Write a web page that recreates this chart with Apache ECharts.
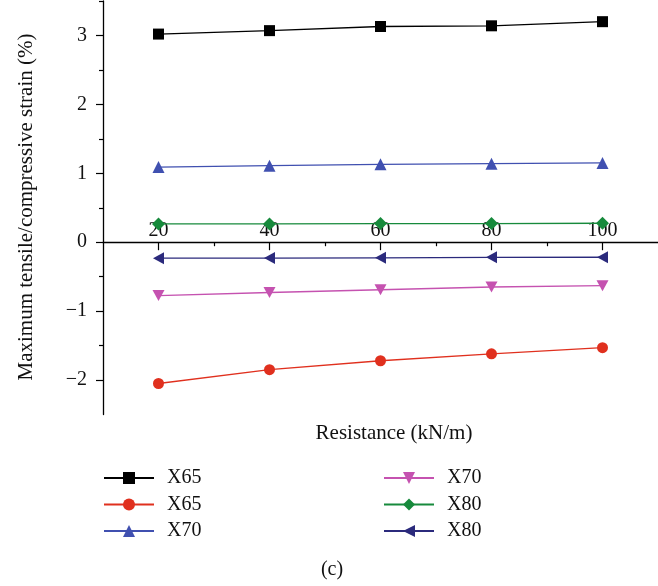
<!DOCTYPE html>
<html>
<head>
<meta charset="utf-8">
<script src="https://cdn.jsdelivr.net/npm/echarts@6/dist/echarts.min.js"></script>
<style>html,body{margin:0;padding:0;background:#fff}#c{width:658px;height:586px}</style>
</head>
<body>
<div id="c"></div>
<script>
const resistance = [20, 40, 60, 80, 100];
const x65Tensile = [3.02, 3.07, 3.13, 3.14, 3.20];
const x65Compressive = [-2.05, -1.85, -1.72, -1.62, -1.53];
const x70Tensile = [1.09, 1.11, 1.13, 1.14, 1.15];
const x70Compressive = [-0.775, -0.73, -0.69, -0.65, -0.63];
const x80Tensile = [0.266, 0.265, 0.27, 0.27, 0.275];
const x80Compressive = [-0.232, -0.23, -0.226, -0.22, -0.218];
const xMajorTicks = [20, 40, 60, 80, 100];
const xMinorTicks = [30, 50, 70, 90];
const yMajorTicks = [-2, -1, 0, 1, 2, 3];
const yMinorTicks = [-1.5, -0.5, 0.5, 1.5, 2.5, 3.5];
const xTitle = 'Resistance (kN/m)';
const yTitle = 'Maximum tensile/compressive strain (%)';
const caption = '(c)';

const FONT = '"Liberation Serif", "DejaVu Serif", serif';
const pts = arr => resistance.map((x, i) => [x, arr[i]]);

const seriesDefs = [
  {name: 'X65-t', data: x65Tensile, color: '#000000', symbol: 'rect', size: 11},
  {name: 'X65-c', data: x65Compressive, color: '#e0301e', symbol: 'circle', size: 11},
  {name: 'X70-t', data: x70Tensile, color: '#4050b0', symbol: 'triangle', size: 12},
  {name: 'X70-c', data: x70Compressive, color: '#c552b0', symbol: 'path://M0,0 L10,0 L5,9 Z', size: [12, 11]},
  {name: 'X80-t', data: x80Tensile, color: '#178a3c', symbol: 'diamond', size: [13, 13]},
  {name: 'X80-c', data: x80Compressive, color: '#2b2a7c', symbol: 'path://M0,5 L9,0 L9,10 Z', size: [11, 12]}
];

const GRID_TOP = 1, GRID_H = 413.5, Y_MIN = -2.5, Y_MAX = 3.5;
const zeroOffset = -GRID_H * (0 - Y_MIN) / (Y_MAX - Y_MIN);

const chart = echarts.init(document.getElementById('c'), null, {renderer: 'canvas'});
const legendCommon = {
  orient: 'vertical', itemWidth: 50, itemHeight: 15, itemGap: 6.5, padding: 0,
  formatter: n => n.split('-')[0],
  textStyle: {fontFamily: FONT, fontSize: 20, color: '#111', lineHeight: 20, padding: [0, 0, 0, 8]},
  selectedMode: false
};
chart.setOption({
  animation: false,
  backgroundColor: '#fff',
  grid: {left: 103, right: -6, top: GRID_TOP, height: GRID_H, containLabel: false},
  xAxis: [
    {type: 'value', min: 10, max: 110, position: 'bottom', offset: zeroOffset,
     axisLine: {show: true, onZero: false, lineStyle: {color: '#000', width: 1.3}},
     axisTick: {show: true, customValues: xMajorTicks, length: 8, lineStyle: {color: '#000', width: 1.2}},
     axisLabel: {show: true, inside: true, margin: 1, customValues: xMajorTicks, fontFamily: FONT, fontSize: 20, color: '#111'},
     splitLine: {show: false}},
    {type: 'value', min: 10, max: 110, position: 'bottom', offset: zeroOffset,
     axisLine: {show: false, onZero: false},
     axisTick: {show: true, customValues: xMinorTicks, length: 4, lineStyle: {color: '#000', width: 1.2}},
     axisLabel: {show: false}, splitLine: {show: false}}
  ],
  yAxis: [
    {type: 'value', min: Y_MIN, max: Y_MAX, position: 'left',
     axisLine: {show: true, onZero: false, lineStyle: {color: '#000', width: 1.3}},
     axisTick: {show: true, customValues: yMajorTicks, length: 7, lineStyle: {color: '#000', width: 1.2}},
     axisLabel: {show: true, margin: 16, customValues: yMajorTicks, fontFamily: FONT, fontSize: 20, color: '#111',
                 formatter: v => (v < 0 ? '\u2212' + Math.abs(v) : String(v))},
     splitLine: {show: false}},
    {type: 'value', min: Y_MIN, max: Y_MAX, position: 'left',
     axisLine: {show: false, onZero: false},
     axisTick: {show: true, customValues: yMinorTicks, length: 4, lineStyle: {color: '#000', width: 1.2}},
     axisLabel: {show: false}, splitLine: {show: false}}
  ],
  legend: [
    Object.assign({left: 103, top: 468, data: ['X65-t', 'X65-c', 'X70-t']}, legendCommon),
    Object.assign({left: 383, top: 468, data: ['X70-c', 'X80-t', 'X80-c']}, legendCommon)
  ],
  graphic: [
    {type: 'text', style: {text: xTitle, font: '21px ' + FONT, fill: '#111', textAlign: 'center', textVerticalAlign: 'middle'}, position: [394, 433]},
    {type: 'text', style: {text: yTitle, font: '21px ' + FONT, fill: '#111', textAlign: 'center', textVerticalAlign: 'middle'}, position: [26, 207], rotation: Math.PI / 2},
    {type: 'text', style: {text: caption, font: '20px ' + FONT, fill: '#111', textAlign: 'center', textVerticalAlign: 'middle'}, position: [332, 570]}
  ],
  series: seriesDefs.map(s => ({
    name: s.name, type: 'line', xAxisIndex: 0, yAxisIndex: 0,
    data: pts(s.data), symbol: s.symbol, symbolSize: s.size, showSymbol: true,
    itemStyle: {color: s.color}, lineStyle: {color: s.color, width: 1.3}
  }))
});
</script>
</body>
</html>
